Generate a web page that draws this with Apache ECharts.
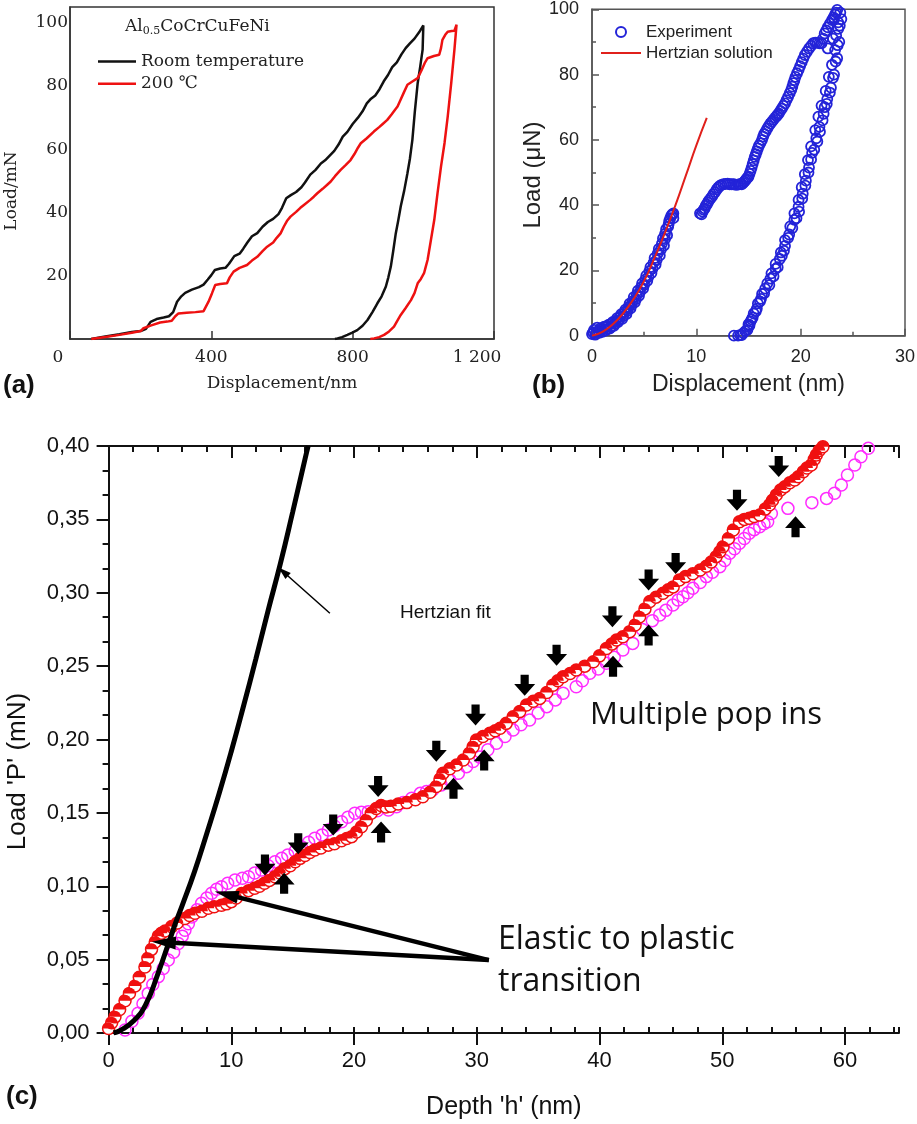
<!DOCTYPE html>
<html><head><meta charset="utf-8">
<script src="https://cdn.jsdelivr.net/npm/echarts@6/dist/echarts.min.js"></script>
<style>html,body{margin:0;padding:0;background:#fff}#c{width:917px;height:1124px}</style>
</head><body><div id="c"></div>
<script>
// ---------- Panel (a): Al0.5CoCrCuFeNi load-displacement (nm, mN) ----------
const aRoomTemp = [[60,0],[100,0.8],[140,1.5],[175,2.2],[200,2.5],[215,3.2],[228,5.4],[245,6.3],[265,6.8],[280,7.2],[292,8.5],[303,11.8],[315,13.5],[326,14.6],[345,15.6],[365,16.4],[378,17.2],[390,18.8],[400,20.2],[410,21.8],[425,22.3],[440,22.5],[450,23.8],[465,26.2],[480,27],[490,28.5],[502,30.5],[515,32.5],[530,33.5],[545,35.5],[560,37],[575,38],[590,39.5],[600,41.5],[612,44.5],[625,45.5],[640,46.5],[655,48],[665,49.5],[680,52],[695,53.5],[710,55.5],[722,56.5],[735,58],[748,59.5],[760,61.5],[772,64],[785,65.5],[800,68],[815,70],[828,72],[840,74.5],[852,76],[864,77],[876,79],[888,81.5],[900,83.5],[912,86],[925,87.5],[938,90],[950,92],[962,93.5],[975,95],[988,97],[1000,99.2],
  [998,91.5],[991,86],[984,80.9],[976,72],[969,63],[962,57],[955,52.4],[946,47],[936,41.9],[929,37.5],[922,33.4],[915,28],[908,22.9],[901,19.5],[894,16.6],[882,13.5],[870,11.3],[856,8.5],[842,6],[828,4.2],[813,2.8],[799,2],[785,1.3],[770,0.6],[757,0.2],[750,0]];
const a200C = [[60,0],[100,0.6],[140,1.3],[175,2],[200,2.5],[208,3.4],[230,4.3],[255,5.2],[275,5.5],[288,5.8],[298,7.2],[307,8.1],[330,8.3],[355,8.5],[378,8.8],[392,11.8],[402,14.5],[411,17.1],[425,17.4],[444,17.6],[452,19.5],[463,21.3],[480,22.5],[501,23.4],[515,24.8],[530,26],[545,27.8],[558,29.2],[575,30.5],[585,32],[596,33.4],[605,35.5],[615,37.5],[624,38.7],[640,40.2],[652,41.5],[662,42.4],[680,44],[690,45],[700,46.1],[715,47.5],[728,48.8],[738,49.8],[750,51.5],[766,53.5],[780,55],[794,56.6],[805,58.5],[815,60.5],[823,61.9],[840,63.5],[860,65.6],[875,67],[885,68],[898,69.3],[910,71],[920,72.5],[927,73.5],[935,75.5],[945,78],[955,80.4],[970,81.5],[984,82.5],[995,85],[1005,87.5],[1012,88.8],[1030,89.5],[1045,89.9],[1050,92],[1054,94.6],[1062,96.2],[1069,97.2],[1080,97.4],[1088,97.5],[1094,99.4],
  [1088,91.5],[1079,81],[1069,70.3],[1060,62],[1050,54.5],[1040,46],[1031,37.7],[1021,31],[1012,25],[1006,22.5],[1002,20.8],[993,19],[984,17.6],[975,14.5],[965,12.3],[950,9.8],[936,7.6],[925,5.5],[917,3.9],[903,2.4],[889,1.3],[875,0.6],[861,0.2],[850,0]];

// ---------- Panel (b): Experiment vs Hertzian solution (nm, uN) ----------
const bExperiment = [[0,0.5],[0.2,1.8],[0.4,0.8],[0.6,1.5],[0.8,2.2],[1.0,1.2],[1.2,2.8],[1.4,2.0],[1.6,3.4],[1.8,2.6],[2.0,4.2],[2.2,3.6],[2.4,5.4],[2.6,4.8],[2.8,6.6],[3.0,6.0],[3.2,8.0],[3.4,7.6],[3.6,9.8],[3.8,9.4],[4.0,11.8],[4.2,11.2],[4.4,13.8],[4.6,13.4],[4.8,16.0],[5.0,15.6],[5.2,18.4],[5.4,18.0],[5.6,21.0],[5.8,20.6],[6.0,23.8],[6.2,23.2],[6.4,26.6],[6.6,26.4],[6.8,29.8],[7.0,29.6],[7.1,32.6],[7.3,33.4],[7.4,35.2],[7.6,36.8],[7.8,37.5],
  [0.1,1.0],[0.3,0.3],[0.5,2.5],[0.7,0.9],[0.9,1.8],[1.1,2.6],[1.3,1.6],[1.5,3.0],[1.7,2.2],[1.9,3.8],[2.1,3.0],[2.3,4.6],[2.5,4.2],[2.7,5.8],[2.9,5.2],[3.1,7.2],[3.3,6.6],[3.5,8.8],[3.7,8.4],[3.9,10.6],[4.1,10.2],[4.3,12.6],[4.5,12.2],[4.7,14.8],[4.9,14.4],[5.1,17.2],[5.3,16.8],[5.5,19.8],[5.7,19.2],[5.9,22.4],[6.1,21.8],[6.3,25.2],[6.5,24.6],[6.7,28.2],[6.9,27.6],[7.0,31.2],[7.2,30.8],[7.35,34.2],[7.5,36.0],[7.7,37.2],[7.8,36],
  [10.35,37.5],[10.6,38],[10.8,39],[11.0,40.2],[11.2,41.4],[11.5,42.6],[11.8,44],[12.1,45.4],[12.4,46.2],[12.8,46.5],[13.2,46.4],[13.6,46.4],[14.0,46.3],[14.35,46.4],[14.6,47.2],[14.8,48],[15.0,48.7],[15.2,50.5],[15.4,52.6],[15.6,54.8],[15.8,56.5],[16.0,58.2],[16.3,60],[16.5,61.8],[16.8,63.5],[17.1,65],[17.4,66.2],[17.7,67.3],[17.9,68.1],[18.2,69.6],[18.5,71.2],[18.8,73.2],[19.1,75.3],[19.3,77.4],[19.5,79.3],[19.8,81.4],[20.1,83.8],[20.4,86],[20.8,88],[21.2,89.6],[21.6,89.8],[22.0,89.6],[22.3,92.6],[22.6,94.5],[23.0,96.7],[23.3,98.4],[23.5,99.8],[22.6,88],[23.1,91],[23.6,94],[23.2,97],[23.8,99],
  [10.5,37.2],[10.7,38.6],[10.9,39.8],[11.1,40.8],[11.35,42],[11.65,43.4],[11.95,44.8],[12.25,45.9],[12.6,46.4],[13.0,46.6],[13.4,46.4],[13.8,46.2],[14.2,46.5],[14.5,46.8],[14.7,47.6],[14.9,48.4],[15.1,49.6],[15.3,51.5],[15.5,53.7],[15.7,55.6],[15.9,57.4],[16.15,59],[16.4,61],[16.65,62.6],[16.95,64.3],[17.25,65.6],[17.55,66.8],[17.8,67.7],[18.05,68.9],[18.35,70.4],[18.65,72.2],[18.95,74.3],[19.2,76.3],[19.4,78.3],[19.65,80.4],[19.95,82.6],[20.25,84.9],[20.6,87],[21.0,88.8],[21.4,89.8],[21.8,89.6],[22.15,91],[22.45,93.5],[22.8,95.6],[23.15,97.5],[23.4,99],
  [23.6,96],[23.4,92],[23.3,87.5],[23.0,83],[22.7,79.3],[22.4,75],[22.0,70.5],[21.7,67.1],[21.4,63],[21.0,58],[20.7,53.8],[20.4,49.5],[20.1,45.5],[19.8,41.6],[19.4,37.5],[19.0,33.5],[18.5,29.3],[18.1,25.5],[17.6,22],[17.2,19.1],[16.8,16],[16.3,12.8],[15.9,9.9],[15.5,6.8],[15.2,4.4],[15.0,2.8],[14.7,1.4],[14.35,0.2],[14.0,0],[13.6,0],
  [23.9,97],[23.7,90],[23.5,85],[23.2,80],[22.9,76],[22.5,71],[22.2,68],[21.8,64],[21.5,60.5],[21.1,56],[20.8,51.5],[20.5,47.5],[20.2,43.5],[19.8,39.5],[19.4,35.5],[18.9,31],[18.5,27.5],[18.0,23.5],[17.6,20.5],[17.1,17.5],[16.6,14.4],[16.2,11.3],[15.8,8.3],[15.4,5.6],[15.0,3.5],
  [23.75,95],[23.55,89],[23.35,84],[23.1,79],[22.8,74.5],[22.55,72.5],[22.3,70],[22.1,66],[21.85,62.5],[21.6,59.5],[21.3,57],[21.0,54],[20.75,50],[20.45,46],[20.15,42],[19.85,38],[19.6,36],[19.2,33],[18.8,30],[18.4,26],[18.2,24.5],[17.8,21],[17.4,18.2],[17.0,15.5],[16.5,13],[16.1,10.5],[15.7,7.5],[15.3,5],[15.1,3.2],[14.9,1.8],[14.5,0.8],[14.2,0.2]];
const bHertz = [[0,0],[1,1.2],[2,3.5],[3,6.9],[4,11.3],[5,16.8],[6,23.9],[7,31.6],[8,40.0],[9,49.1],[10,58.3],[11,66.7]];

// ---------- Panel (c): Load 'P' (mN) vs Depth 'h' (nm) ----------
const cRed = [[0,0.003],[0.25,0.007],[0.52,0.011],[0.9,0.016],[1.34,0.022],[1.7,0.027],[2.15,0.032],[2.5,0.038],[2.96,0.045],[3.2,0.051],[3.5,0.057],[3.8,0.062],[4.05,0.066],[4.3,0.068],[4.6,0.0695],[5.14,0.0725],[5.6,0.075],[6.22,0.078],[6.6,0.080],[7.04,0.0816],[7.6,0.083],[8.12,0.085],[8.6,0.086],[9.2,0.087],[9.6,0.088],[10,0.0895],[10.4,0.092],[10.84,0.095],[11.4,0.097],[11.9,0.0986],[12.3,0.100],[12.7,0.102],[13.1,0.104],[13.55,0.1065],[13.95,0.109],[14.36,0.112],[14.8,0.114],[15.2,0.1167],[15.6,0.119],[16,0.121],[16.4,0.123],[16.8,0.1247],[17.3,0.126],[17.9,0.128],[18.4,0.129],[18.98,0.131],[19.4,0.1325],[19.8,0.1338],[20.2,0.137],[20.6,0.1406],[21.0,0.145],[21.4,0.1497],[21.8,0.153],[22.2,0.155],[22.6,0.154],[23.0,0.1545],[23.6,0.156],[24.3,0.157],[25.0,0.159],[25.6,0.161],[26.2,0.164],[26.7,0.168],[27.0,0.173],[27.25,0.177],[27.8,0.180],[28.35,0.1826],[28.9,0.186],[29.4,0.1906],[29.7,0.195],[29.97,0.1997],[30.5,0.202],[31.06,0.2042],[31.5,0.206],[31.9,0.2076],[32.4,0.211],[32.96,0.2155],[33.5,0.219],[34.05,0.2235],[34.6,0.226],[35.13,0.228],[35.7,0.232],[36.2,0.237],[36.6,0.240],[37.03,0.2428],[37.6,0.245],[38.1,0.2474],[38.8,0.250],[39.5,0.253],[40.0,0.257],[40.56,0.262],[41.0,0.265],[41.38,0.2678],[41.9,0.270],[42.46,0.2735],[42.9,0.278],[43.27,0.2837],[43.7,0.289],[44.1,0.294],[44.6,0.297],[45.17,0.2996],[45.6,0.302],[46,0.304],[46.5,0.3087],[47.0,0.311],[47.6,0.313],[48.2,0.3155],[48.7,0.318],[49.1,0.321],[49.5,0.3246],[49.8,0.328],[50.06,0.3314],[50.5,0.337],[50.9,0.3428],[51.4,0.3484],[51.8,0.350],[52.2,0.3507],[52.6,0.352],[53.05,0.353],[53.5,0.357],[53.86,0.360],[54.1,0.363],[54.4,0.3666],[54.75,0.370],[55.1,0.3723],[55.5,0.375],[55.9,0.3768],[56.2,0.379],[56.6,0.3825],[56.9,0.385],[57.25,0.387],[57.5,0.391],[57.66,0.3939],[57.9,0.397],[58.2,0.3995]];
const cMagenta = [[1.34,0.002],[1.9,0.008],[2.4,0.0134],[2.8,0.02],[3.23,0.027],[3.6,0.033],[4.05,0.0384],[4.45,0.044],[4.86,0.0497],[5.3,0.055],[5.68,0.061],[6.0,0.066],[6.22,0.070],[6.5,0.0745],[6.77,0.079],[7.2,0.084],[7.58,0.0884],[8.0,0.092],[8.4,0.0952],[8.8,0.098],[9.2,0.0997],[9.7,0.102],[10.3,0.1043],[10.9,0.1055],[11.4,0.1065],[11.9,0.109],[12.47,0.111],[13.0,0.114],[13.55,0.1167],[14.1,0.119],[14.6,0.1213],[15.2,0.124],[15.7,0.127],[16.3,0.130],[16.8,0.1327],[17.4,0.135],[17.9,0.1383],[18.4,0.141],[18.98,0.144],[19.5,0.147],[20.06,0.1497],[20.6,0.1505],[21.15,0.1508],[21.9,0.1515],[22.8,0.152],[23.46,0.1542],[24.0,0.157],[24.7,0.160],[25.4,0.1633],[25.9,0.1645],[26.4,0.1656],[27.1,0.169],[27.8,0.1724],[28.5,0.177],[29.16,0.1815],[29.7,0.185],[30.25,0.188],[30.9,0.193],[31.6,0.1974],[32.3,0.202],[32.96,0.2065],[33.6,0.210],[34.3,0.2133],[35.0,0.218],[35.7,0.2224],[36.4,0.227],[37.03,0.2315],[38.1,0.236],[38.6,0.240],[39.2,0.2451],[39.9,0.248],[40.56,0.2519],[41.2,0.256],[41.9,0.261],[42.7,0.2655],[43.5,0.275],[44.3,0.281],[44.9,0.2848],[45.4,0.288],[45.98,0.2917],[46.4,0.295],[46.8,0.2973],[47.2,0.300],[47.6,0.303],[48.2,0.307],[48.7,0.311],[49.2,0.314],[49.8,0.3178],[50.2,0.322],[50.6,0.3269],[51.0,0.330],[51.4,0.3337],[51.8,0.337],[52.2,0.3405],[52.6,0.343],[53.05,0.345],[53.4,0.347],[53.7,0.3484],[54.0,0.354],[55.35,0.3575],[57.3,0.3614],[58.5,0.3643],[59.15,0.3678],[59.7,0.3734],[60.2,0.3802],[60.8,0.387],[61.3,0.3927],[61.9,0.3984]];
const cHertzFit = [[0.4,0],[1,0.002],[2,0.008],[3,0.019],[4,0.040],[5,0.064],[5.5,0.076],[6,0.087],[7,0.110],[8,0.136],[9,0.163],[10,0.192],[11,0.223],[12,0.255],[13,0.288],[14,0.320],[15,0.355],[16,0.391],[16.26,0.40]];
const cDownArrows = [[12.74,0.1145],[15.45,0.129],[18.3,0.1417],[21.96,0.168],[26.7,0.192],[29.9,0.2167],[33.9,0.237],[36.5,0.2574],[41.05,0.2837],[44.0,0.3087],[46.2,0.320],[51.2,0.363],[54.6,0.386]];
const cUpArrows = [[14.3,0.102],[22.2,0.137],[28.1,0.1667],[30.6,0.186],[41.1,0.250],[44.0,0.2712],[55.97,0.345]];
// annotation pointers: [from, to] in data units
const cPointers = [
  {from:[18.03,0.286], to:[14.23,0.3143], kind:'thin'},
  {from:[30.98,0.0497], to:[9.6,0.0945], kind:'thick'},
  {from:[30.98,0.0497], to:[4.5,0.0618], kind:'thick'}
];

const SANS = 'Liberation Sans';
const SERIF = 'DejaVu Serif';
const commaFmt = v => v.toFixed(2).replace('.', ',');
const halfDisc = 'path://M0,10 A10,10 0 0 1 20,10 Z M10,20 L10,20';
const downArrow = 'path://M5.5,0 L12.5,0 L12.5,8 L18,8 L9,18 L0,8 L5.5,8 Z';
const upArrow = 'path://M9,0 L18,10 L12.5,10 L12.5,18 L5.5,18 L5.5,10 L0,10 Z';
const lineIcon = 'path://M0,0 L0,0 M0,4.1 L40,4.1 L40,5.9 L0,5.9 Z M40,10 L40,10';

const chart = echarts.init(document.getElementById('c'), null, {renderer:'canvas'});
const cX = {min:0, max:64.4};
const noLine = {show:false};

chart.setOption({
  animation:false,
  backgroundColor:'#fff',
  grid:[
    {left:70, top:7, width:424, height:332, show:true, borderColor:'#333', borderWidth:1.5, containLabel:false, outerBoundsMode:'none'},
    {left:592, top:9.3, width:313, height:326.4, show:true, borderColor:'#555', borderWidth:1.5, containLabel:false, outerBoundsMode:'none'},
    {left:108.6, top:446, width:790.4, height:587, containLabel:false, outerBoundsMode:'none'}
  ],
  legend:[
    {data:[{name:'Room temperature', icon:'rect'},{name:'200 ℃', icon:'rect'}], left:98, top:52, orient:'vertical', itemWidth:38, itemHeight:2.5, itemGap:3.3, padding:0,
     textStyle:{fontFamily:SERIF, fontSize:17, color:'#222', lineHeight:19}},
    {data:[{name:'Experiment', icon:'circle'},{name:'Hertzian solution', icon:lineIcon}], left:601, top:21.5, orient:'vertical', itemWidth:40, itemHeight:10, itemGap:0, padding:0,
     textStyle:{fontFamily:SANS, fontSize:17, color:'#222', lineHeight:21}}
  ],
  xAxis:[
    {gridIndex:0, type:'value', min:0, max:1200, interval:400,
     axisLine:{show:true, lineStyle:{color:'#333', width:1.5}},
     axisTick:{show:true, inside:true, length:8, lineStyle:{color:'#333', width:1.5}},
     splitLine:{show:false},
     axisLabel:{margin:10, color:'#222', fontFamily:SERIF, fontSize:17,
       formatter:v => v===0 ? '{z|0}' : (v===1200 ? '{w|1 200}' : String(v)),
       rich:{z:{fontFamily:SERIF, fontSize:17, color:'#222', padding:[0,24,0,0]}, w:{fontFamily:SERIF, fontSize:17, color:'#222', padding:[0,34,0,0]}}},
     name:'Displacement/nm', nameLocation:'middle', nameGap:36, nameTextStyle:{fontFamily:SERIF, fontSize:17, color:'#222'}},
    {gridIndex:1, type:'value', min:0, max:30, interval:10,
     axisLine:{show:true, lineStyle:{color:'#555', width:1.5}},
     axisTick:{show:true, inside:true, length:7, lineStyle:{color:'#555', width:1.5}},
     minorTick:{show:true, splitNumber:2, length:4, lineStyle:{color:'#555', width:1.5}},
     splitLine:{show:false}, minorSplitLine:{show:false},
     axisLabel:{margin:12, color:'#222', fontFamily:SANS, fontSize:18},
     name:'Displacement (nm)', nameLocation:'middle', nameGap:37, nameTextStyle:{fontFamily:SANS, fontSize:23, color:'#222'}},
    {gridIndex:2, type:'value', min:cX.min, max:cX.max, interval:10,
     axisLine:{show:true, lineStyle:{color:'#111', width:2}},
     axisTick:{show:true, inside:false, length:12, lineStyle:{color:'#111', width:2}},
     splitLine:{show:false},
     axisLabel:{margin:17, color:'#111', fontFamily:SANS, fontSize:22, showMaxLabel:false},
     name:"Depth 'h' (nm)", nameLocation:'middle', nameGap:62, nameTextStyle:{fontFamily:SANS, fontSize:25, color:'#111'}},
    {gridIndex:2, type:'value', min:cX.min, max:cX.max, interval:2,
     axisLine:noLine, axisTick:{show:true, inside:false, length:6, lineStyle:{color:'#111', width:2}},
     splitLine:{show:false}, axisLabel:{show:false}},
    {gridIndex:2, type:'value', position:'top', min:cX.min, max:cX.max, interval:10,
     axisLine:{show:true, lineStyle:{color:'#111', width:2}},
     axisTick:{show:true, inside:true, length:12, lineStyle:{color:'#111', width:2}},
     splitLine:{show:false}, axisLabel:{show:false}},
    {gridIndex:2, type:'value', position:'top', min:cX.min, max:cX.max, interval:2,
     axisLine:noLine, axisTick:{show:true, inside:true, length:6, lineStyle:{color:'#111', width:2}},
     splitLine:{show:false}, axisLabel:{show:false}}
  ],
  yAxis:[
    {gridIndex:0, type:'value', min:0, max:105, interval:20,
     axisLine:{show:true, lineStyle:{color:'#333', width:1.5}}, axisTick:{show:false}, splitLine:{show:false},
     axisLabel:{margin:2, color:'#222', fontFamily:SERIF, fontSize:17, showMinLabel:false, showMaxLabel:false},
     name:'Load/mN', nameLocation:'middle', nameGap:50, nameTextStyle:{fontFamily:SERIF, fontSize:17, color:'#222', padding:[0,36,0,0]}},
    {gridIndex:1, type:'value', min:0, max:100, interval:20,
     axisLine:{show:true, lineStyle:{color:'#555', width:1.5}},
     axisTick:{show:true, inside:true, length:7, lineStyle:{color:'#555', width:1.5}},
     minorTick:{show:true, splitNumber:2, length:4, lineStyle:{color:'#555', width:1.5}},
     splitLine:{show:false}, minorSplitLine:{show:false},
     axisLabel:{margin:13, color:'#222', fontFamily:SANS, fontSize:18},
     name:'Load (μN)', nameLocation:'middle', nameGap:37, nameTextStyle:{fontFamily:SANS, fontSize:24, color:'#222', padding:[0,5,0,0]}},
    {gridIndex:2, type:'value', min:0, max:0.4, interval:0.05,
     axisLine:{show:true, lineStyle:{color:'#111', width:2}},
     axisTick:{show:true, inside:false, length:12, lineStyle:{color:'#111', width:2}},
     minorTick:{show:true, splitNumber:3, length:6, lineStyle:{color:'#111', width:2}},
     splitLine:{show:false}, minorSplitLine:{show:false},
     axisLabel:{margin:19, color:'#111', fontFamily:SANS, fontSize:22, formatter:commaFmt},
     name:"Load 'P' (mN)", nameLocation:'middle', nameGap:78, nameTextStyle:{fontFamily:SANS, fontSize:26, color:'#111', padding:[0,64,0,0]}},
    {gridIndex:2, type:'value', position:'right', min:0, max:0.4, interval:0.05,
     axisLine:{show:true, lineStyle:{color:'#111', width:2}},
     axisTick:{show:true, inside:true, length:12, lineStyle:{color:'#111', width:2}},
     minorTick:{show:true, splitNumber:3, length:6, lineStyle:{color:'#111', width:2}},
     splitLine:{show:false}, minorSplitLine:{show:false}, axisLabel:{show:false}}
  ],
  series:[
    {name:'Room temperature', type:'line', xAxisIndex:0, yAxisIndex:0, data:aRoomTemp, symbol:'none',
     lineStyle:{color:'#111', width:2.5}, itemStyle:{color:'#111'}},
    {name:'200 ℃', type:'line', xAxisIndex:0, yAxisIndex:0, data:a200C, symbol:'none',
     lineStyle:{color:'#ee1111', width:2.5}, itemStyle:{color:'#ee1111'}},
    {name:'Experiment', type:'scatter', xAxisIndex:1, yAxisIndex:1, data:bExperiment, symbol:'circle', symbolSize:10,
     itemStyle:{color:'rgba(255,255,255,0)', borderColor:'#2323d8', borderWidth:1.8, opacity:1}},
    {name:'Hertzian solution', type:'line', xAxisIndex:1, yAxisIndex:1, data:bHertz, symbol:'none', smooth:true,
     lineStyle:{color:'#e0201b', width:2}, itemStyle:{color:'#e0201b'}, z:3},
    {name:'Sample B', type:'scatter', xAxisIndex:2, yAxisIndex:2, data:cMagenta, symbol:'circle', symbolSize:12,
     itemStyle:{color:'rgba(255,255,255,0)', borderColor:'#ff2cff', borderWidth:1.5, opacity:1}, z:2},
    {name:'Sample A', type:'scatter', xAxisIndex:2, yAxisIndex:2, data:cRed, symbol:'circle', symbolSize:12,
     itemStyle:{color:'#ffffff', borderColor:'#f01010', borderWidth:1.5, opacity:1}, z:3},
    {name:'Sample A fill', type:'scatter', xAxisIndex:2, yAxisIndex:2, data:cRed, symbol:halfDisc, symbolSize:12,
     itemStyle:{color:'#f01010', opacity:1}, z:4},
    {name:'Hertzian fit', type:'line', xAxisIndex:2, yAxisIndex:2, data:cHertzFit, symbol:'none', smooth:true,
     lineStyle:{color:'#000', width:5}, z:6,
     markLine:{silent:true, animation:false, symbol:['none','triangle'], label:{show:false},
       data:cPointers.map(p => [
         {coord:p.from, symbol:'none', lineStyle:{type:'solid', color:'#000', width:p.kind==='thin'?1.5:4.5}},
         {coord:p.to, symbol:'triangle', symbolSize:p.kind==='thin'?[8,13]:[13,24]}
       ])}},
    {name:'pop-in (down)', type:'scatter', xAxisIndex:2, yAxisIndex:2, data:cDownArrows, symbol:downArrow, symbolSize:[21,21],
     itemStyle:{color:'#000', opacity:1}, z:7, silent:true},
    {name:'pop-in (up)', type:'scatter', xAxisIndex:2, yAxisIndex:2, data:cUpArrows, symbol:upArrow, symbolSize:[21,21],
     itemStyle:{color:'#000', opacity:1}, z:7, silent:true}
  ],
  graphic:[
    {type:'text', x:125, y:27, style:{text:'{n|Al}{s|0.5}{n|CoCrCuFeNi}', verticalAlign:'middle',
      rich:{n:{fontFamily:SERIF, fontSize:17, fill:'#222', color:'#222'}, s:{fontFamily:SERIF, fontSize:11, fill:'#222', color:'#222', padding:[9,0,0,0]}}}},
    {type:'text', x:3, y:386, style:{text:'(a)', font:'bold 26px "Liberation Sans"', fill:'#111', verticalAlign:'middle'}},
    {type:'text', x:532, y:386, style:{text:'(b)', font:'bold 26px "Liberation Sans"', fill:'#111', verticalAlign:'middle'}},
    {type:'text', x:6, y:1097, style:{text:'(c)', font:'bold 26px "Liberation Sans"', fill:'#111', verticalAlign:'middle'}},
    {type:'text', x:400, y:613, style:{text:'Hertzian fit', font:'19px "Liberation Sans"', fill:'#111', verticalAlign:'middle'}},
    {type:'text', x:590, y:715, style:{text:'Multiple pop ins', font:'31px "Open Sans"', fill:'#111', verticalAlign:'middle'}},
    {type:'text', x:498, y:940, style:{text:'Elastic to plastic', font:'32px "Open Sans"', fill:'#111', verticalAlign:'middle'}},
    {type:'text', x:498, y:982, style:{text:'transition', font:'32px "Open Sans"', fill:'#111', verticalAlign:'middle'}}
  ]
});
</script></body></html>
